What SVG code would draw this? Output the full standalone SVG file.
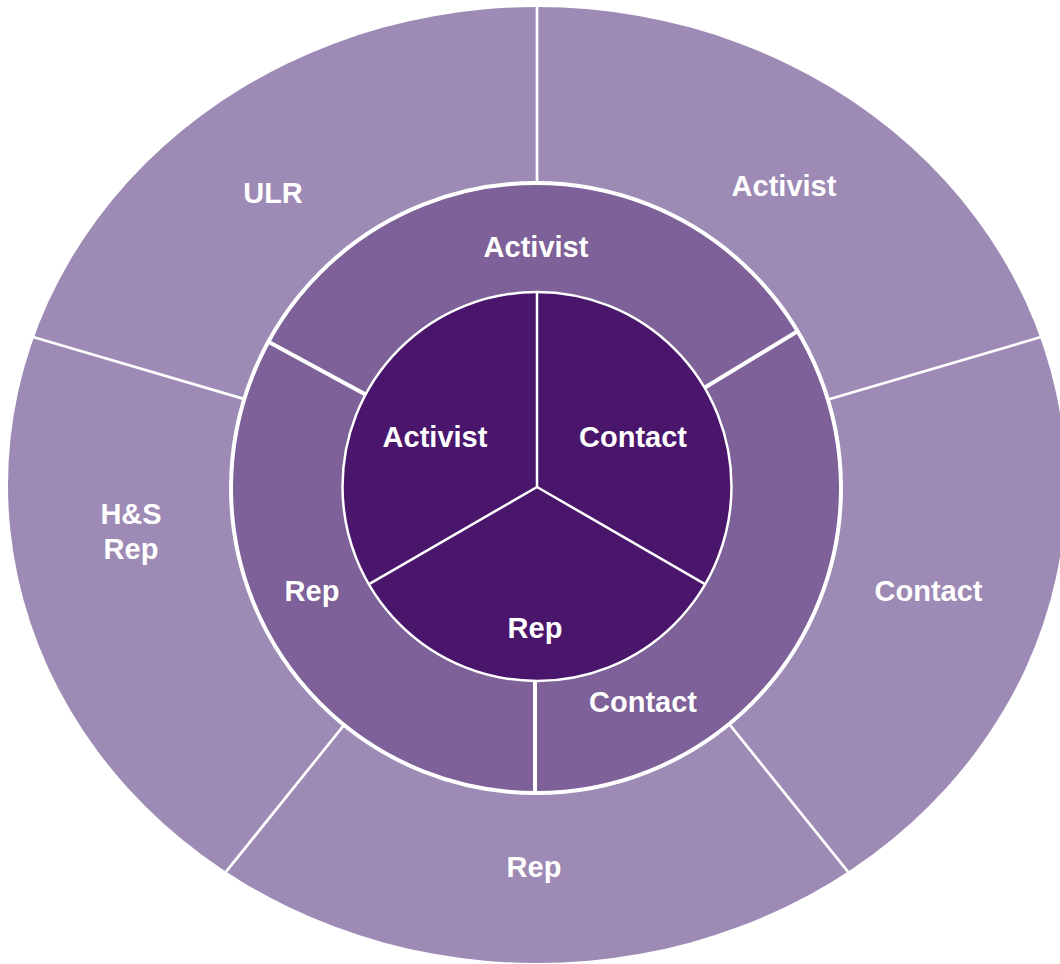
<svg xmlns="http://www.w3.org/2000/svg" width="1060" height="964" viewBox="0 0 1060 964">
  <style>
    .outer { fill: #9D8AB5; }
    .middle { fill: #7D6198; stroke: #FFFFFF; stroke-width: 4; }
    .inner { fill: #4A166B; stroke: #FFFFFF; stroke-width: 2.5; }
    .div-outer { stroke: #FFFFFF; stroke-width: 2.7; fill: none; }
    .div-middle { stroke: #FFFFFF; stroke-width: 4; fill: none; }
    .div-inner { stroke: #FFFFFF; stroke-width: 2.5; fill: none; }
    .lbl { fill: #FFFFFF; font-family: "Liberation Sans", Arial, Helvetica, sans-serif; font-weight: bold; font-size: 29px; text-anchor: middle; }
  </style>
  <rect x="0" y="0" width="1060" height="964" fill="#FFFFFF"/>

  <g id="outer-ring">
    <ellipse class="outer" cx="537" cy="485" rx="529" ry="478"/>
  </g>

  <g id="connectors-outer">
    <line class="div-outer" x1="537" y1="485" x2="537" y2="6"/>
    <line class="div-outer" x1="537" y1="485" x2="1040.1" y2="337.3"/>
    <line class="div-outer" x1="537" y1="485" x2="847.9" y2="871.7"/>
    <line class="div-outer" x1="537" y1="485" x2="226.1" y2="871.7"/>
    <line class="div-outer" x1="537" y1="485" x2="33.9" y2="337.3"/>
  </g>

  <g id="middle-ring">
    <circle class="middle" cx="536" cy="488" r="305"/>
  </g>

  <g id="connectors-middle">
    <line class="div-middle" x1="536" y1="487" x2="267" y2="341"/>
    <line class="div-middle" x1="536" y1="490" x2="798" y2="331"/>
    <line class="div-middle" x1="535" y1="488" x2="535" y2="792"/>
  </g>

  <g id="inner-ring">
    <circle class="inner" cx="537" cy="486.5" r="194.5"/>
  </g>

  <g id="connectors-inner">
    <line class="div-inner" x1="537" y1="487" x2="537" y2="292"/>
    <line class="div-inner" x1="537" y1="487" x2="368.6" y2="584.3"/>
    <line class="div-inner" x1="537" y1="487" x2="705.4" y2="584.3"/>
  </g>

  <g id="node-outer-ulr"><text class="lbl" x="273" y="203">ULR</text></g>
  <g id="node-outer-activist"><text class="lbl" x="784" y="196">Activist</text></g>
  <g id="node-outer-contact"><text class="lbl" x="928.5" y="601">Contact</text></g>
  <g id="node-outer-rep"><text class="lbl" x="534" y="877">Rep</text></g>
  <g id="node-outer-hs-rep"><text class="lbl" x="131" y="524">H&amp;S</text><text class="lbl" x="131" y="559">Rep</text></g>

  <g id="node-middle-activist"><text class="lbl" x="536" y="257">Activist</text></g>
  <g id="node-middle-rep"><text class="lbl" x="312" y="600.5">Rep</text></g>
  <g id="node-middle-contact"><text class="lbl" x="643" y="711.5">Contact</text></g>

  <g id="node-inner-activist"><text class="lbl" x="435" y="447">Activist</text></g>
  <g id="node-inner-contact"><text class="lbl" x="633" y="447">Contact</text></g>
  <g id="node-inner-rep"><text class="lbl" x="535" y="638">Rep</text></g>
</svg>
